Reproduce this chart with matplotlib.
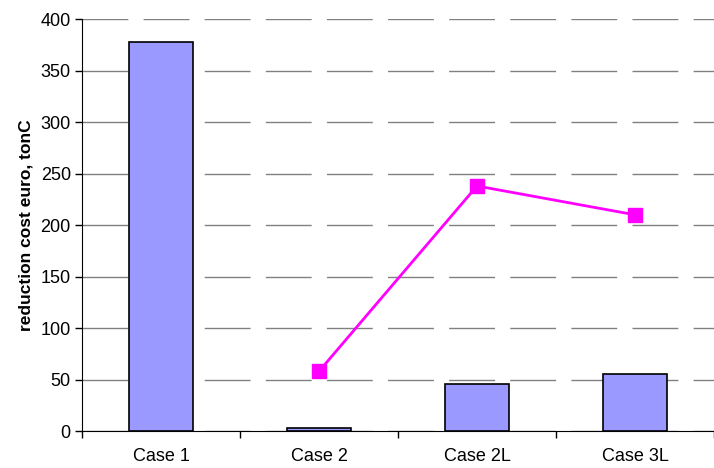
import numpy as np
import matplotlib.pyplot as plt

# data
CASES = ["Case 1", "Case 2", "Case 2L", "Case 3L"]
BAR_VALUES = [378, 3, 46, 55]
LINE_CASES = ["Case 2", "Case 2L", "Case 3L"]
LINE_VALUES = [58, 238, 210]

plt.rcParams["font.family"] = ["Liberation Sans", "DejaVu Sans"]

fig = plt.figure(figsize=(7.14, 4.68), dpi=100)
ax = fig.add_axes([0.1148, 0.079, 0.8852, 0.880])

x = np.arange(len(CASES))
ax.bar(x, BAR_VALUES, width=0.41, color="#9999FF", edgecolor="black",
       linewidth=1.2, zorder=2)

lx = [CASES.index(c) for c in LINE_CASES]
ax.plot(lx, LINE_VALUES, color="#FF00FF", linewidth=2.0, marker="s",
        markersize=9.5, zorder=3)

# gridlines
ax.set_ylim(0, 400)
ax.set_yticks(np.arange(0, 401, 50))
ax.yaxis.grid(True, color="#808080", linewidth=1.0, linestyle=(0, (33, 11)))
ax.set_axisbelow(True)

ax.set_xlim(-0.5, 3.44)
ax.set_xticks(x)
ax.set_xticklabels(CASES, fontsize=13)
ax.set_xticks(np.arange(-0.5, 4, 1), minor=True)
ax.tick_params(axis="x", which="major", length=0, pad=12)
ax.tick_params(axis="x", which="minor", length=5, width=1)
ax.tick_params(axis="y", length=5, width=1, labelsize=13, pad=3)

ax.set_ylabel("reduction cost euro, tonC", fontsize=12.5, fontweight="bold",
              labelpad=5)

ax.spines["top"].set_visible(False)
ax.spines["right"].set_visible(False)

fig.savefig("out.png", dpi=100)
